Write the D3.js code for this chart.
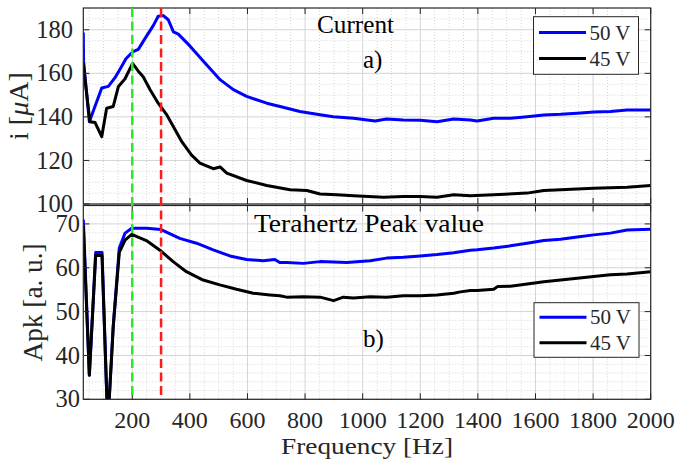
<!DOCTYPE html>
<html>
<head>
<meta charset="utf-8">
<script src="https://cdn.jsdelivr.net/npm/d3@7"></script>
<style>
  html, body { margin: 0; padding: 0; background: #fff; }
  svg { display: block; }
  svg text { font-family: "Liberation Serif", "Times New Roman", Times, serif; }
</style>
</head>
<body>
<svg id="chart" width="676" height="461"></svg>
<script>
// values: [frequency Hz, value]
const current50 = [[30,178.8],[31,165.6],[51,137.8],[94,153.3],[117,154],[140,158],[157,161.8],[178,166.7],
  [201,169.8],[221,171],[250,177.2],[273,181.9],[290,186.2],[308,186.5],[325,184.6],[343,179],[360,178],
  [400,172.6],[447,165.6],[505,157.1],[551,152.5],[597,149.4],[667,146.3],[713,144.8],[782,142.5],[852,141],
  [898,140.1],[968,139.4],[1043,138.1],[1083,139],[1141,138.6],[1200,138.5],[1258,137.8],[1316,139],
  [1374,138.6],[1397,138.1],[1455,139.4],[1513,139.4],[1571,140.1],[1629,140.9],[1687,141.2],[1745,141.7],
  [1802,142.2],[1860,142.5],[1918,143.2],[2000,143.2]];
const current45 = [[30,165],[36,157],[53,137.8],[71,137.4],[94,130.9],[111,144],[134,144.8],[152,154],
  [175,157.5],[201,164.6],[221,161],[238,158.4],[262,152.5],[290,146.3],[320,140.9],[343,135.5],[372,128.6],
  [406,122.4],[435,118.8],[481,116.2],[505,117],[528,114.2],[597,110.8],[667,108.5],[748,106.5],[806,106.2],
  [852,104.6],[910,104.2],[968,103.8],[1072,103.1],[1141,103.5],[1200,103.5],[1258,103.1],[1316,104.2],
  [1374,103.8],[1455,104.2],[1571,105],[1629,106.2],[1687,106.5],[1802,107.2],[1918,107.7],[2000,108.5]];
const apk50 = [[30,71],[31,69.5],[51,35.5],[73,63.5],[95,63.5],[115,24],[134,46.8],[155,64.5],[175,67.9],
  [198,69],[250,69],[300,68.7],[365,66.7],[423,65.6],[481,64.1],[539,62.7],[597,61.9],[655,61.6],[695,61.9],
  [712,61.2],[736,61.2],[794,61],[852,61.4],[945,61.2],[1026,61.6],[1083,62.2],[1141,62.4],[1200,62.7],
  [1258,63],[1316,63.4],[1374,64],[1397,64.1],[1455,64.5],[1513,65],[1571,65.6],[1629,66.2],[1687,66.5],
  [1745,67],[1802,67.5],[1860,67.9],[1918,68.6],[2000,68.8]];
const apk45 = [[30,69.5],[51,35.5],[73,62.8],[95,62.8],[115,24],[134,46.6],[155,63.5],[175,66.3],[198,67.6],
  [249,66.2],[296,64],[342,61.4],[388,59.1],[446,57.2],[504,56.1],[562,55.1],[620,54.2],[678,53.8],[712,53.6],
  [736,53.3],[794,53.4],[852,53.3],[899,52.5],[933,53.3],[968,53.1],[1026,53.4],[1083,53.3],[1141,53.6],
  [1200,53.6],[1258,53.8],[1316,54.2],[1339,54.5],[1374,54.8],[1397,54.8],[1455,55.1],[1468,55.7],[1513,55.8],
  [1571,56.3],[1629,56.8],[1687,57.2],[1745,57.6],[1802,58],[1860,58.4],[1918,58.6],[2000,59.1]];

const freqTicks = [200, 400, 600, 800, 1000, 1200, 1400, 1600, 1800, 2000];
const currentTicks = [100, 120, 140, 160, 180];
const apkTicks = [30, 40, 50, 60, 70];
const markers = [200, 300];          // green / red dashed references
const legendLabels = ["50 V", "45 V"];

(() => {
  const AX = "#262626", GRID = "#d4d4d4";
  const BLUE = "#0000ff", BLACK = "#000000";
  const svg = d3.select("#chart");
  const txt = (sel, size, fill) => sel.attr("font-size", size).attr("fill", fill || AX);

  const x = d3.scaleLinear().domain([30, 2000]).range([83.3, 650.7]);

  const panels = [
    { key: "a", y: d3.scaleLinear().domain([100, 190]).range([204, 8]),
      ticks: currentTicks, minor: d3.range(105, 190, 5).filter(v => v % 20),
      data: [current50, current45], labelX: 73, tickLabels: false,
      title: { t: "Current", x: 317, y: 33, len: 77 }, tag: { t: "a)", x: 363, y: 68 },
      legend: { x: 533.5, y: 16.7, w: 105, h: 57.6, dy: 26 },
      ylab: { t: "i", x: 28, len: 68 } },
    { key: "b", y: d3.scaleLinear().domain([30, 74.2]).range([399.3, 205.5]),
      ticks: apkTicks, minor: d3.range(32, 74, 2).filter(v => v % 10),
      data: [apk50, apk45], labelX: 80, tickLabels: true,
      title: { t: "Terahertz Peak value", x: 254, y: 232, len: 230 }, tag: { t: "b)", x: 363, y: 347 },
      legend: { x: 534, y: 302.7, w: 105, h: 54.6, dy: 25.4 },
      ylab: { t: "Apk [a. u.]", x: 42, len: 118 } },
  ];

  const xMinor = d3.range(50, 2000, 50).filter(v => v % 200);

  panels.forEach(p => {
    const [y0, y1] = p.y.range();   // bottom, top
    const [xl, xr] = x.range();
    const g = svg.append("g");

    // grid: minor dotted, major solid
    const gl = g.append("g").attr("stroke", GRID).attr("stroke-width", 1);
    xMinor.forEach(v => gl.append("line").attr("x1", x(v)).attr("x2", x(v)).attr("y1", y1).attr("y2", y0)
      .attr("stroke-dasharray", "1 2"));
    p.minor.forEach(v => gl.append("line").attr("x1", xl).attr("x2", xr)
      .attr("y1", p.y(v)).attr("y2", p.y(v)).attr("stroke-dasharray", "1 2"));
    freqTicks.forEach(v => gl.append("line").attr("x1", x(v)).attr("x2", x(v)).attr("y1", y1).attr("y2", y0));
    p.ticks.forEach(v => gl.append("line").attr("x1", xl).attr("x2", xr)
      .attr("y1", p.y(v)).attr("y2", p.y(v)));

    // data
    const clipId = "clip-" + p.key;
    svg.append("clipPath").attr("id", clipId).append("rect")
      .attr("x", xl).attr("y", y1).attr("width", xr - xl).attr("height", y0 - y1);
    const ln = d3.line().x(d => x(d[0])).y(d => p.y(d[1]));
    [BLUE, BLACK].forEach((col, i) => {
      g.append("path").attr("d", ln(p.data[i])).attr("fill", "none").attr("stroke", col)
        .attr("stroke-width", 3).attr("stroke-linejoin", "round").attr("clip-path", `url(#${clipId})`);
    });

    // box + inward ticks
    g.append("rect").attr("x", xl).attr("y", y1).attr("width", xr - xl).attr("height", y0 - y1)
      .attr("fill", "none").attr("stroke", AX).attr("stroke-width", 1.2);
    freqTicks.forEach(v => {
      g.append("line").attr("x1", x(v)).attr("x2", x(v)).attr("y1", y0).attr("y2", y0 - 6).attr("stroke", AX);
      g.append("line").attr("x1", x(v)).attr("x2", x(v)).attr("y1", y1).attr("y2", y1 + 6).attr("stroke", AX);
    });
    p.ticks.forEach(v => {
      g.append("line").attr("x1", xl).attr("x2", xl + 6).attr("y1", p.y(v)).attr("y2", p.y(v)).attr("stroke", AX);
      g.append("line").attr("x1", xr).attr("x2", xr - 6).attr("y1", p.y(v)).attr("y2", p.y(v)).attr("stroke", AX);
      txt(g.append("text").attr("x", p.labelX).attr("y", p.y(v)).attr("dy", "0.33em")
        .attr("text-anchor", "end"), 24.5).text(v);
    });
    if (p.tickLabels) {
      freqTicks.forEach(v => txt(g.append("text").attr("x", x(v)).attr("y", 427.5)
        .attr("text-anchor", "middle"), 24).text(v));
    }

    // titles
    txt(g.append("text").attr("x", p.title.x).attr("y", p.title.y), 25, "#000")
      .attr("textLength", p.title.len).attr("lengthAdjust", "spacingAndGlyphs").text(p.title.t);
    txt(g.append("text").attr("x", p.tag.x).attr("y", p.tag.y), 25, "#000").text(p.tag.t);

    // y label
    const cy = (y0 + y1) / 2;
    const yl = txt(g.append("text").attr("transform", `translate(${p.ylab.x},${cy}) rotate(-90)`)
      .attr("text-anchor", "middle"), 27)
      .attr("textLength", p.ylab.len).attr("lengthAdjust", "spacingAndGlyphs");
    if (p.key === "a") {
      yl.append("tspan").text("i [");
      yl.append("tspan").attr("font-style", "italic").text("\u03bc");
      yl.append("tspan").text("A]");
    } else {
      yl.text(p.ylab.t);
    }
  });

  // dashed reference lines across both panels
  const yTop = panels[0].y.range()[1], yBot = panels[1].y.range()[0];
  ["#22ee22", "#ff1a1a"].forEach((col, i) => {
    svg.append("line").attr("x1", x(markers[i])).attr("x2", x(markers[i]))
      .attr("y1", yTop).attr("y2", yBot)
      .attr("stroke", col).attr("stroke-width", 2.5).attr("stroke-dasharray", "9 4.5");
  });

  // legends
  panels.forEach(p => {
    const L = p.legend;
    const lg = svg.append("g");
    lg.append("rect").attr("x", L.x).attr("y", L.y).attr("width", L.w).attr("height", L.h)
      .attr("fill", "#fff").attr("stroke", AX).attr("stroke-width", 1);
    [BLUE, BLACK].forEach((col, i) => {
      const yy = L.y + L.h / 2 + (i - 0.5) * L.dy;
      lg.append("line").attr("x1", L.x + 5.5).attr("x2", L.x + 52.5).attr("y1", yy).attr("y2", yy)
        .attr("stroke", col).attr("stroke-width", 3);
      txt(lg.append("text").attr("x", L.x + 56).attr("y", yy).attr("dy", "0.34em"), 21).text(legendLabels[i]);
    });
  });

  // x label
  txt(svg.append("text").attr("x", (x.range()[0] + x.range()[1]) / 2).attr("y", 454)
    .attr("text-anchor", "middle"), 24).attr("textLength", 172).attr("lengthAdjust", "spacingAndGlyphs")
    .text("Frequency [Hz]");
})();
</script>
</body>
</html>
